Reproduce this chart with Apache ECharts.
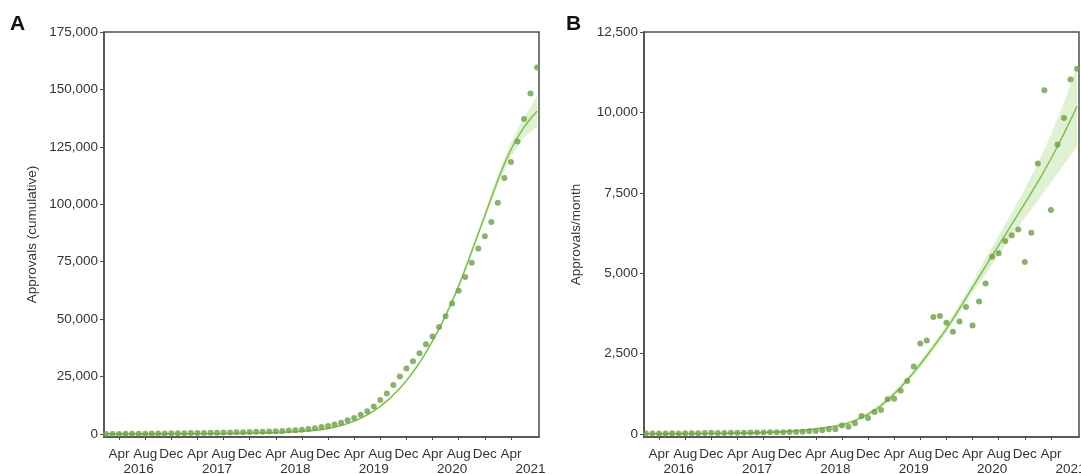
<!DOCTYPE html>
<html>
<head>
<meta charset="utf-8">
<script src="https://cdn.jsdelivr.net/npm/echarts@6/dist/echarts.min.js"></script>
<style>
html,body{margin:0;padding:0;background:#fff;}
#chart{width:1081px;height:474px;}
</style>
</head>
<body>
<div id="chart"></div>
<script>
// Month index: 0 = Jan 2016
const months = [1,2,3,4,5,6,7,8,9,10,11,12,13,14,15,16,17,18,19,20,21,22,23,24,25,26,27,28,29,30,31,32,33,34,35,36,37,38,39,40,41,42,43,44,45,46,47,48,49,50,51,52,53,54,55,56,57,58,59,60,61,62,63,64,65,66,67];

const cumulative = [20,40,60,80,105,125,155,185,210,245,290,320,360,400,445,490,540,590,640,700,760,820,885,950,1025,1110,
  1210,1330,1480,1630,1900,2130,2470,3000,3500,4150,4900,5950,7000,8350,9950,12000,14800,17600,21300,25000,28500,31700,35200,39100,42500,46600,51300,56800,
  62400,68400,74500,80800,86100,92300,100700,111400,118400,127300,137100,148200,159600];

const monthly = [15,20,18,22,25,20,28,30,25,35,45,32,38,40,45,42,50,48,52,55,58,60,65,62,75,85,
  100,120,150,150,270,230,340,560,500,690,750,1080,1100,1350,1650,2100,2820,2910,3640,3670,3460,3180,3500,3950,3380,4120,4680,5510,
  5620,6000,6180,6360,5350,6260,8410,10690,6970,9000,9830,11020,11360];

const fitMonths = [1,9,17,21,25,29,31,33,35,37,39,41,43,45,47,49,51,53,55,57,59,61,63,65,67];
const fitA = [0,30,110,230,460,850,1150,1600,2400,3700,5600,8300,12000,17000,23200,31000,40500,51500,64500,79500,95000,110500,123800,133500,140500];
const fitALow = [0,0,0,0,160,550,850,1300,2100,3400,5300,8000,11700,16700,22900,30600,40000,50800,63600,78300,93400,108300,120800,129000,134000];
const fitAHigh = [300,330,410,530,760,1150,1450,1900,2700,4000,5900,8600,12300,17300,23500,31400,41000,52200,65400,80700,96600,112700,126800,138000,147000];
const fitB = [0,8,35,65,120,220,290,420,620,890,1250,1680,2170,2710,3270,3900,4560,5220,5870,6520,7170,7840,8560,9340,10190];
const fitBLow = [0,0,15,45,100,190,250,370,560,820,1170,1590,2070,2600,3150,3760,4400,4970,5570,6160,6720,7260,7820,8390,8940];
const fitBHigh = [20,28,55,85,140,250,330,470,680,960,1330,1770,2270,2820,3390,4040,4720,5470,6170,6880,7620,8420,9300,10290,11440];

const tickMonths = [3,7,11,15,19,23,27,31,35,39,43,47,51,55,59,63];
const tickLabels = ['Apr','Aug','Dec','Apr','Aug','Dec','Apr','Aug','Dec','Apr','Aug','Dec','Apr','Aug','Dec','Apr'];
const yearMonths = [6,18,30,42,54,66];
const yearLabels = ['2016','2017','2018','2019','2020','2021'];
const yTicksA = [0,25000,50000,75000,100000,125000,150000,175000];
const yTicksB = [0,2500,5000,7500,10000,12500];

const FONT = 'Liberation Sans, Arial, Helvetica, sans-serif';
const FS = 13.5;
const AXIS = '#4d4d4d';
const TXT = '#333';
const DOT = '#6f9d47';
const LINE = '#7fbf4f';
const BAND = 'rgba(150,205,110,0.30)';

function fmt(v){ return String(v).replace(/\B(?=(\d{3})+(?!\d))/g, ','); }
function pairs(xs, ys){ return xs.map((x,i)=>[x, ys[i]]); }

function xAxes(gi){
  return [{
    type:'value', gridIndex:gi, min:0.7, max:67.3, position:'bottom',
    axisLine:{show:true, onZero:false, lineStyle:{color:AXIS, width:1.5}},
    axisTick:{show:true, length:3, customValues:tickMonths, lineStyle:{color:AXIS}},
    axisLabel:{show:true, customValues:tickMonths, margin:10, color:TXT, fontSize:FS, fontFamily:FONT,
      formatter:(v)=>tickLabels[tickMonths.indexOf(v)]},
    splitLine:{show:false}
  },{
    type:'value', gridIndex:gi, min:0.7, max:67.3, position:'bottom', offset:15,
    axisLine:{show:false}, axisTick:{show:false},
    axisLabel:{show:true, customValues:yearMonths, margin:10, color:TXT, fontSize:FS, fontFamily:FONT,
      formatter:(v)=>yearLabels[yearMonths.indexOf(v)]},
    splitLine:{show:false}
  }];
}

function yAxis(gi, min, max, ticks, name, gap){
  return {
    type:'value', gridIndex:gi, min:min, max:max,
    name:name, nameLocation:'middle', nameGap:gap,
    nameTextStyle:{color:TXT, fontSize:FS, fontFamily:FONT},
    axisLine:{show:true, lineStyle:{color:AXIS, width:1.5}},
    axisTick:{show:true, length:4, customValues:ticks, lineStyle:{color:AXIS}},
    axisLabel:{show:true, customValues:ticks, margin:6, color:TXT, fontSize:FS, fontFamily:FONT, formatter:fmt},
    splitLine:{show:false}
  };
}

function bandSeries(xi, yi, lows, highs){
  return {
    type:'custom', xAxisIndex:xi, yAxisIndex:yi, data:[[30,0]], silent:true, z:1,
    renderItem:function(params, api){
      const pts = [];
      for (let i=0;i<fitMonths.length;i++) pts.push(api.coord([fitMonths[i], highs[i]]));
      for (let i=fitMonths.length-1;i>=0;i--) pts.push(api.coord([fitMonths[i], lows[i]]));
      return {type:'polygon', shape:{points:pts}, style:{fill:BAND, stroke:null}};
    }
  };
}

const chart = echarts.init(document.getElementById('chart'), null, {renderer:'canvas'});
chart.setOption({
  animation:false,
  backgroundColor:'#fff',
  grid:[
    {left:104, top:32, width:435, height:405, show:true, borderColor:AXIS, borderWidth:1.5, containLabel:false, outerBoundsMode:'none'},
    {left:644, top:32, width:435, height:405, show:true, borderColor:AXIS, borderWidth:1.5, containLabel:false, outerBoundsMode:'none'}
  ],
  xAxis:[...xAxes(0), ...xAxes(1)],
  yAxis:[
    yAxis(0, -1300, 175000, yTicksA, 'Approvals (cumulative)', 65),
    yAxis(1, -90, 12500, yTicksB, 'Approvals/month', 61)
  ],
  graphic:[
    {type:'text', left:10, top:14, style:{text:'A', fontSize:21, fontWeight:'bold', fontFamily:FONT, fill:'#111'}},
    {type:'text', left:566, top:14, style:{text:'B', fontSize:21, fontWeight:'bold', fontFamily:FONT, fill:'#111'}}
  ],
  series:[
    bandSeries(0, 0, fitALow, fitAHigh),
    {type:'line', xAxisIndex:0, yAxisIndex:0, data:pairs(fitMonths, fitA), smooth:true, showSymbol:false, z:2,
      lineStyle:{color:LINE, width:1.5}},
    {type:'scatter', xAxisIndex:0, yAxisIndex:0, data:pairs(months, cumulative), symbolSize:6, z:3,
      itemStyle:{color:DOT}},
    bandSeries(2, 1, fitBLow, fitBHigh),
    {type:'line', xAxisIndex:2, yAxisIndex:1, data:pairs(fitMonths, fitB), smooth:true, showSymbol:false, z:2,
      lineStyle:{color:LINE, width:1.5}},
    {type:'scatter', xAxisIndex:2, yAxisIndex:1, data:pairs(months, monthly), symbolSize:6, z:3,
      itemStyle:{color:DOT}}
  ]
});
</script>
</body>
</html>
